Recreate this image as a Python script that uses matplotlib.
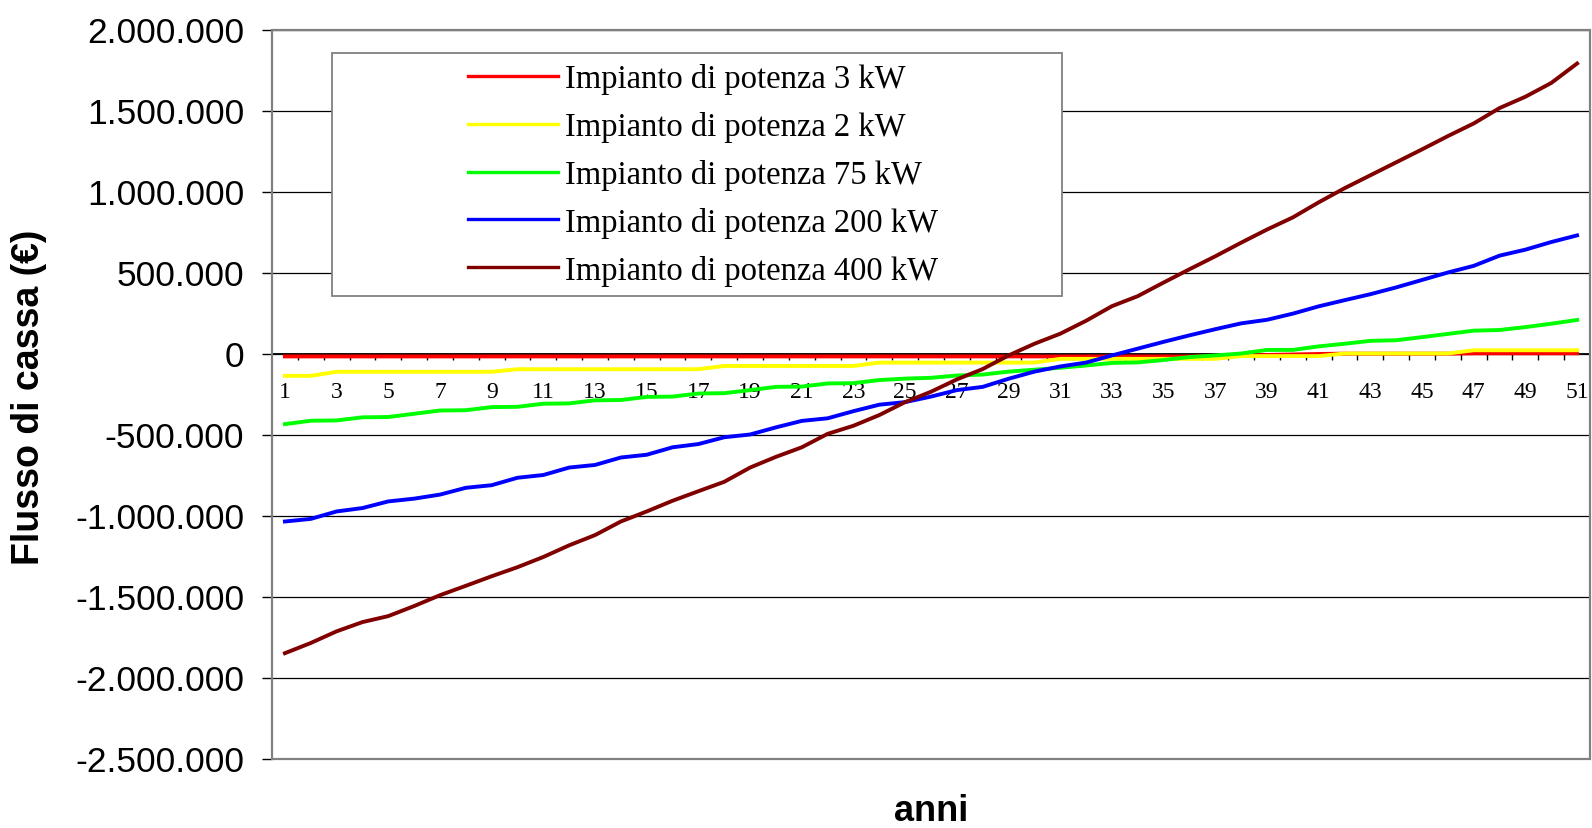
import matplotlib
matplotlib.use("Agg")
import matplotlib.pyplot as plt
from matplotlib.ticker import FixedLocator, FuncFormatter
from matplotlib.patches import Rectangle

# ---------------- data ----------------
anni = list(range(1, 52))

serie_3kw = [-18000] * 36 + [-15000, -12000, -9000, -6000, -3000] + [-1000] * 5 + [1000] * 5

serie_2kw = ([-138000] * 2 + [-113000] * 7 + [-97000] * 8 + [-77000] * 6 +
             [-56000] * 7 + [-33000] * 7 + [-16000] * 4 + [0] * 5 + [20000] * 5)

serie_75kw = [-436000, -415000, -413000, -394000, -392000, -372000, -352000, -350000,
              -331000, -329000, -310000, -308000, -289000, -287000, -268000, -266000,
              -247000, -245000, -226000, -206000, -204000, -185000, -183000, -164000,
              -155000, -150000, -136000, -130000, -112000, -100000, -88000, -74000,
              -58000, -55000, -40000, -22000, -12000, 0, 22000, 22000, 44000, 60000,
              78000, 82000, 101000, 121000, 141000, 145000, 163000, 184000, 207000]

serie_200kw = [-1037000, -1021000, -975000, -954000, -913000, -896000, -871000, -829000,
               -813000, -767000, -750000, -704000, -688000, -642000, -625000, -579000,
               -559000, -517000, -500000, -456000, -416000, -400000, -356000, -316000,
               -300000, -266000, -226000, -206000, -156000, -112000, -80000, -56000,
               -12000, 30000, 72000, 112000, 150000, 186000, 208000, 246000, 291000,
               329000, 366000, 408000, 454000, 500000, 541000, 604000, 641000, 688000,
               729000]

serie_400kw = [-1850000, -1787000, -1715000, -1658000, -1621000, -1559000, -1492000,
               -1434000, -1375000, -1319000, -1256000, -1184000, -1121000, -1037000,
               -975000, -909000, -850000, -792000, -704000, -638000, -579000, -496000,
               -446000, -380000, -300000, -236000, -160000, -96000, -12000, 60000,
               122000, 202000, 292000, 354000, 438000, 520000, 600000, 684000, 765000,
               840000, 933000, 1020000, 1100000, 1180000, 1260000, 1342000, 1420000,
               1515000, 1585000, 1670000, 1790000]

etichette = ["Impianto di potenza 3 kW", "Impianto di potenza 2 kW",
             "Impianto di potenza 75 kW", "Impianto di potenza 200 kW",
             "Impianto di potenza 400 kW"]
colori = ["#FF0000", "#FFFF00", "#00FF00", "#0000FF", "#800000"]
y_ticks = [2000000, 1500000, 1000000, 500000, 0, -500000, -1000000,
           -1500000, -2000000, -2500000]

# ---------------- figure ----------------
W, H = 1592, 829
fig = plt.figure(figsize=(W / 100, H / 100), dpi=100)
ax_l, ax_r, ax_t, ax_b = 272, 1590, 30.5, 759.5
ax = fig.add_axes([ax_l / W, 1 - ax_b / H, (ax_r - ax_l) / W, (ax_b - ax_t) / H])

for serie, lab, col in zip([serie_3kw, serie_2kw, serie_75kw, serie_200kw, serie_400kw],
                           etichette, colori):
    ax.plot(anni, serie, color=col, lw=2.8, label=lab, solid_joinstyle="round")

ax.set_xlim(0.5, 51.5)
ax.set_ylim(-2500000, 2000000)

# y axis
ax.yaxis.set_major_locator(FixedLocator(y_ticks))
ax.yaxis.set_major_formatter(FuncFormatter(lambda v, p: f"{int(v):,}".replace(",", ".")))
ax.tick_params(axis="y", which="major", length=7, width=1, color="black",
               pad=13, labelsize=25.5)
for t in ax.get_yticklabels():
    t.set_fontfamily("Liberation Sans")
ax.grid(axis="y", color="black", lw=0.9)
ax.set_axisbelow(True)

# x axis (category axis crossing at zero)
ax.spines["bottom"].set_position(("data", 0))
ax.spines["bottom"].set_color("black")
ax.spines["bottom"].set_linewidth(1.3)
ax.spines["bottom"].set_zorder(1.5)
ax.xaxis.set_major_locator(FixedLocator(anni[::2]))
ax.xaxis.set_major_formatter(FuncFormatter(lambda v, p: f"{int(round(v))}"))
ax.xaxis.set_minor_locator(FixedLocator([k + 0.5 for k in anni[:-1]]))
ax.tick_params(axis="x", which="major", length=0, pad=20, labelsize=17)
ax.tick_params(axis="x", which="minor", length=4.5, width=1, color="black", direction="out")
for t in ax.get_xticklabels():
    t.set_fontfamily("Liberation Serif")

for s in ["top", "right", "left"]:
    ax.spines[s].set_visible(False)
ax.add_patch(Rectangle((0, 0), 1, 1, transform=ax.transAxes, fill=False,
                       edgecolor="#808080", lw=1.6, zorder=3, clip_on=False))

# labels
fig.text(29.5 / W, 1 - 397 / H, "Flusso di cassa (€)", rotation=90, ha="center",
         va="center", fontsize=27, fontweight="bold", family="Liberation Sans")
fig.text((ax_l + ax_r) / 2 / W, 1 - 821 / H, "anni", ha="center", va="baseline",
         fontsize=26, fontweight="bold", family="Liberation Sans")

# legend
axw, axh = ax_r - ax_l, ax_b - ax_t
ax.add_patch(Rectangle(((331.7 - ax_l) / axw, (ax_b - 296.7) / axh),
                       (1061.7 - 331.7) / axw, (296.7 - 54) / axh,
                       transform=ax.transAxes, facecolor="white", edgecolor="#808080",
                       lw=1.3, zorder=4))
leg = ax.legend(loc="upper left", bbox_to_anchor=((467.7 - ax_l) / axw, (ax_b - 64) / axh),
                frameon=False, borderpad=0, borderaxespad=0, handlelength=2.77,
                handletextpad=0.21, labelspacing=0.52,
                prop={"family": "Liberation Serif", "size": 23.5})
for h in leg.get_lines():
    h.set_linewidth(2.4)
leg.set_zorder(5)

fig.savefig("out.png", dpi=100, facecolor="white")
